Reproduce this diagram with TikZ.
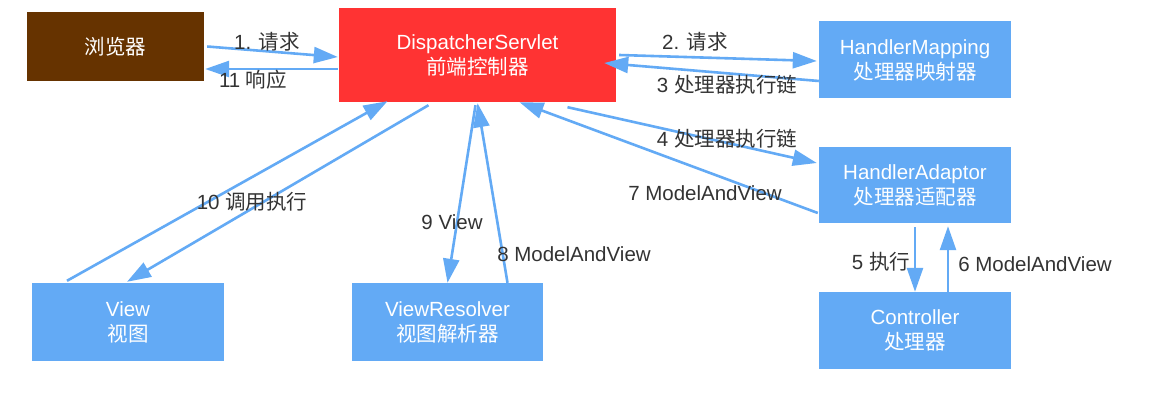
\documentclass[tikz,border=0pt]{standalone}
\usepackage{fontspec}
\setmainfont{Liberation Sans}
\newfontfamily\cjk{Noto Sans CJK SC}
\usepackage{tikz}
\usetikzlibrary{positioning,calc,arrows.meta}

\definecolor{marrone}{HTML}{663300}
\definecolor{rosso}{HTML}{FF3333}
\definecolor{blu}{HTML}{63AAF5}
\definecolor{testo}{HTML}{333333}

\tikzset{
    scatola/.style={fill=blu, text=white, align=center, inner sep=0pt,
        font=\fontsize{20.5}{25}\selectfont},
    freccia/.style={draw=blu, line width=2.6pt, -{Triangle[length=24pt,width=16pt]}},
    etichetta/.style={text=testo, inner sep=0pt, font=\fontsize{20.5}{25}\selectfont}
}

\begin{document}
\begin{tikzpicture}[x=1pt, y=-1pt]
    \fill[white] (0,0) rectangle (1154,403);
    \useasboundingbox (0,0) rectangle (1154,403);
    % Definizione dei blocchi
    \node[scatola, fill=marrone, minimum width=177pt, minimum height=69pt] (br) at (115.5,46.5) {\cjk 浏览器};
    \node[scatola, fill=rosso, minimum width=277pt, minimum height=94pt] (ds) at (477.5,55) {DispatcherServlet\\\cjk 前端控制器};
    \node[scatola, minimum width=192pt, minimum height=77pt] (hm) at (915,60) {HandlerMapping\\\cjk 处理器映射器};
    \node[scatola, minimum width=192pt, minimum height=76pt] (ha) at (915,185) {HandlerAdaptor\\\cjk 处理器适配器};
    \node[scatola, minimum width=192pt, minimum height=77pt] (ctl) at (915,330.5) {Controller\\\cjk 处理器};
    \node[scatola, minimum width=192pt, minimum height=78pt] (view) at (128,322) {View\\\cjk 视图};
    \node[scatola, minimum width=191pt, minimum height=78pt] (vr) at (447.5,322) {ViewResolver\\\cjk 视图解析器};
    % Collegamenti tra i blocchi
    \draw[freccia] ($(br.east)+(3,0)$) -- ($(ds.west)+(-1,2)$);
    \draw[freccia] ($(ds.west)+(-1,14)$) -- ($(br.east)+(1,22.5)$);
    \draw[freccia] ($(ds.east)+(3,0)$) -- ($(hm.west)+(-2,1)$);
    \draw[freccia] ($(hm.west)+(0,21)$) -- ($(ds.east)+(-12,8)$);
    \draw[freccia] ($(ds.south)+(90,5)$) -- ($(ha.west)+(-2,-22)$);
    \draw[freccia] ($(ha.west)+(-1,28)$) -- ($(ds.south)+(42,0)$);
    \draw[freccia] ($(ha.south)+(0,4)$) -- (ctl.north);
    \draw[freccia] ($(ctl.north)+(33,0)$) -- ($(ha.south)+(33,3)$);
    \draw[freccia] ($(ds.south)+(-2,3)$) -- (vr.north);
    \draw[freccia] ($(vr.north)+(60,0)$) -- ($(ds.south)+(0,1)$);
    \draw[freccia] ($(view.north)+(-61,-2)$) -- ($(ds.south)+(-90,-1)$);
    \draw[freccia] ($(ds.south)+(-49,3)$) -- ($(view.north)+(-1,-1)$);
    % Etichette
    \node[etichetta] (l1) at (267,42) {1. \cjk 请求};
    \node[etichetta] (l11) at (253,80) {11 \cjk 响应};
    \node[etichetta] (l2) at (695,42) {2. \cjk 请求};
    \node[etichetta] (l3) at (727,85) {3 \cjk 处理器执行链};
    \node[etichetta] (l4) at (727,139) {4 \cjk 处理器执行链};
    \node[etichetta] (l7) at (705,193) {7 ModelAndView};
    \node[etichetta] (l5) at (881,262) {5 \cjk 执行};
    \node[etichetta] (l6) at (1035,264) {6 ModelAndView};
    \node[etichetta] (l9) at (452,222) {9 View};
    \node[etichetta] (l8) at (574,254) {8 ModelAndView};
    \node[etichetta] (l10) at (252,202) {10 \cjk 调用执行};
\end{tikzpicture}
\end{document}
